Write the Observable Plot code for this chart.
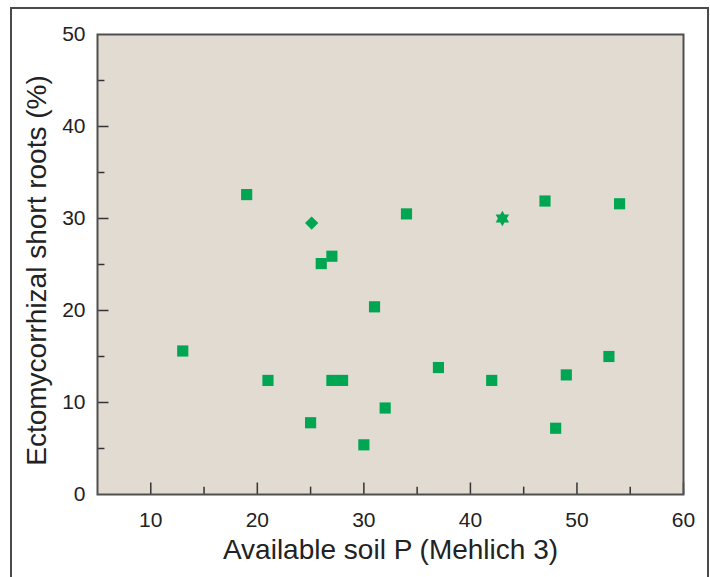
<!DOCTYPE html>
<html>
<head>
<meta charset="utf-8">
<script src="https://cdn.jsdelivr.net/npm/d3@7"></script>
<script src="https://cdn.jsdelivr.net/npm/@observablehq/plot@0.6"></script>
<style>
  html, body { margin: 0; padding: 0; background: #ffffff; }
  #wrap { position: relative; width: 710px; height: 577px; overflow: hidden; }
  #border { position: absolute; left: 10px; top: 7px; width: 699px; height: 600px; border: 2px solid #4a4a4a; box-sizing: border-box; }
  #chart { position: absolute; left: 0; top: 0; }
</style>
</head>
<body>
<div id="wrap"><div id="border"></div><div id="chart"></div></div>
<script>
// Available soil P (Mehlich 3)
const soilP =      [13, 19, 21, 25, 26, 27, 27, 28, 30, 31, 32, 34, 37, 42, 48, 49, 53, 54, 47];
// Ectomycorrhizal short roots (%)
const ectoRoots =  [15.6, 32.6, 12.4, 7.8, 25.1, 25.9, 12.4, 12.4, 5.4, 20.4, 9.4, 30.5, 13.8, 12.4, 7.2, 13.0, 15.0, 31.6, 31.9];
const diamondPt = {x: 25.1, y: 29.5};
const starPt = {x: 43, y: 30.0};

const xMajor = [10, 20, 30, 40, 50, 60];
const xMinor = [15, 25, 35, 45, 55];
const yMajor = [0, 10, 20, 30, 40, 50];
const yMinor = [5, 15, 25, 35, 45];

const xTitle = "Available soil P (Mehlich 3)";
const yTitle = "Ectomycorrhizal short roots (%)";

const green = "#00a651";
const ink = "#222";
const squares = soilP.map((x, i) => ({x, y: ectoRoots[i]}));

const hexagram = {
  draw(context, size) {
    const R = Math.sqrt(size / Math.PI) * 1.3;
    for (const off of [0, Math.PI]) {
      for (let k = 0; k < 3; k++) {
        const a = off - Math.PI / 2 + k * 2 * Math.PI / 3;
        const px = R * Math.cos(a), py = R * Math.sin(a);
        if (k === 0) context.moveTo(px, py); else context.lineTo(px, py);
      }
      context.closePath();
    }
  }
};

// inward tick lengths expressed in each scale's units
const xTickMajor = 1.25, xTickMinor = 0.8;   // along y (units of %)
const yTickMajor = 1.08, yTickMinor = 0.7;   // along x (units of P)

const chart = Plot.plot({
  width: 710,
  height: 577,
  marginLeft: 97,
  marginRight: 27,
  marginTop: 34,
  marginBottom: 83,
  style: {fontFamily: "'Liberation Sans', Arial, Helvetica, sans-serif", color: ink, background: "transparent"},
  x: {domain: [5, 60]},
  y: {domain: [0, 50]},
  marks: [
    Plot.frame({fill: "#e2dbd1", stroke: null}),
    Plot.ruleX(xMajor, {x: d => d, y1: 0, y2: xTickMajor, stroke: "#333", strokeWidth: 1.5}),
    Plot.ruleX(xMinor, {x: d => d, y1: 0, y2: xTickMinor, stroke: "#333", strokeWidth: 1.5}),
    Plot.ruleY(yMajor.filter(d => d > 0 && d < 50), {y: d => d, x1: 5, x2: 5 + yTickMajor, stroke: "#333", strokeWidth: 1.5}),
    Plot.ruleY(yMinor, {y: d => d, x1: 5, x2: 5 + yTickMinor, stroke: "#333", strokeWidth: 1.5}),
    Plot.axisX(xMajor, {tickSize: 0, tickPadding: 18, fontSize: 21, label: null, fill: ink}),
    Plot.axisY(yMajor, {tickSize: 0, tickPadding: 12, fontSize: 21, label: null, fill: ink}),
    Plot.frame({stroke: "#4f4f4f", strokeWidth: 2}),
    Plot.dot(squares, {x: "x", y: "y", symbol: "square", r: 6.3, fill: green}),
    Plot.dot([diamondPt], {x: "x", y: "y", symbol: "diamond2", r: 6, fill: green}),
    Plot.dot([starPt], {x: "x", y: "y", symbol: hexagram, r: 6, fill: green}),
    Plot.text([xTitle], {frameAnchor: "bottom", lineAnchor: "middle", dy: 56, fontSize: 28, fill: ink}),
    Plot.text([yTitle], {frameAnchor: "left", textAnchor: "middle", lineAnchor: "middle", rotate: -90, dx: -60, dy: 6, fontSize: 28, fill: ink})
  ]
});
document.getElementById("chart").appendChild(chart);
</script>
</body>
</html>
